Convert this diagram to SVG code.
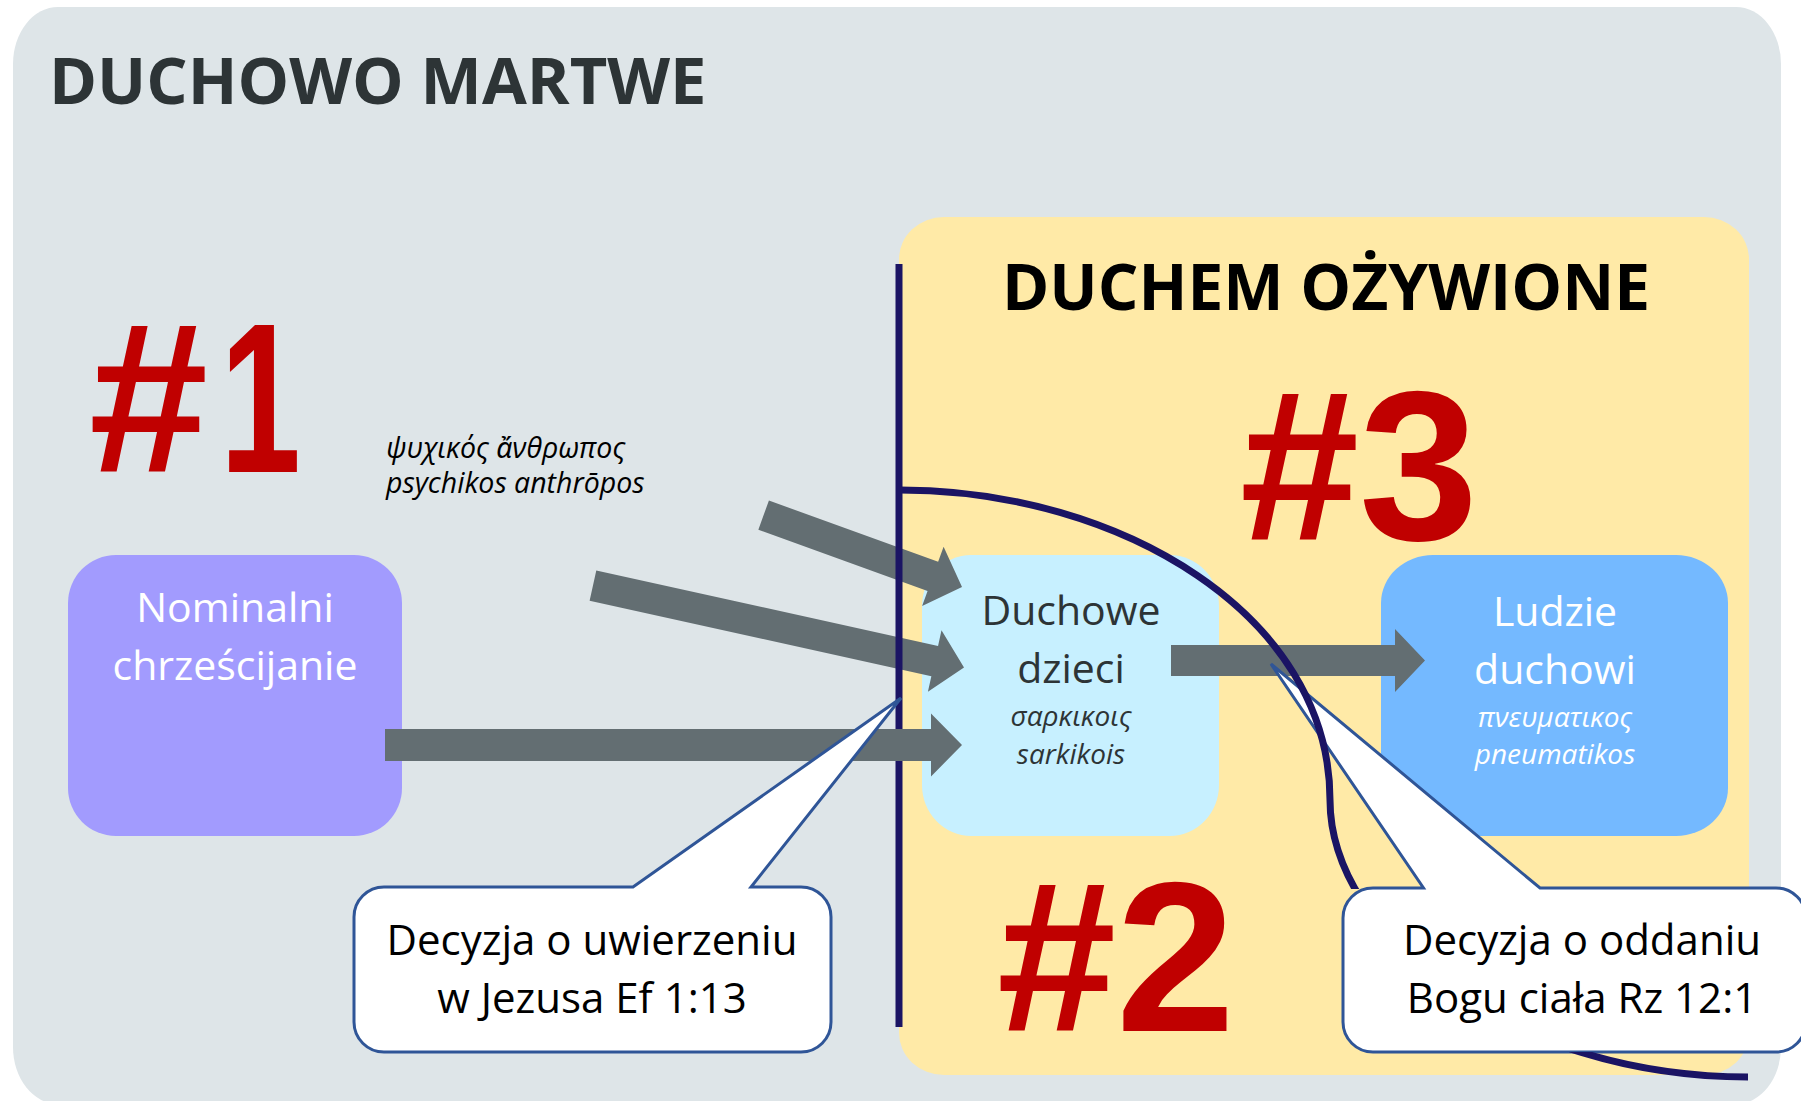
<svg xmlns="http://www.w3.org/2000/svg" width="1801" height="1101" viewBox="0 0 1801 1101">
  <style>
    .t { font-family: "Open Sans", "Noto Sans", "DejaVu Sans", sans-serif; }
    .title { font-weight: 700; font-size: 64px; }
    .num { font-family: "Liberation Sans", Arial, sans-serif; font-weight: 700; font-size: 214px; fill: #C00000; }
    .lbl { font-size: 40px; text-anchor: middle; }
    .big { font-size: 42px; }
    .gr { font-size: 28px; font-style: italic; }
    .arrow { fill: #636E72; }
    .callout { fill: #FFFFFF; stroke: #2F5597; stroke-width: 3; stroke-linejoin: miter; }
    .navy { fill: none; stroke: #1B1464; stroke-width: 7; }
  </style>
  <defs>
    <clipPath id="noBox">
      <path clip-rule="evenodd" d="M0,0 H1801 V1101 H0 Z M1343,889 H1810 V1052 H1343 Z"/>
    </clipPath>
  </defs>

  <rect width="1801" height="1101" fill="#FFFFFF"/>

  <g id="panel-dead">
    <rect x="13" y="7" width="1768" height="1097" rx="45" ry="57" fill="#DEE5E8"/>
    <text class="t title" x="49" y="104" fill="#2D3436" style="font-size:65px">DUCHOWO MARTWE</text>
    <text class="num" x="89" y="472">#</text>
    <text class="num" transform="translate(220,472) scale(0.68,1)">1</text>
  </g>

  <g id="panel-alive">
    <rect x="899" y="217" width="850" height="858" rx="45" ry="42" fill="#FFEAA7"/>
    <text class="t title" x="1326" y="310" text-anchor="middle" fill="#000000">DUCHEM OŻYWIONE</text>
    <text class="num" x="1240" y="540">#3</text>
    <text class="num" x="997" y="1031">#2</text>
  </g>

  <g id="label-psychikos" class="t gr" fill="#000000" style="font-size:28.5px">
    <text x="386" y="458">ψυχικός ἄνθρωπος</text>
    <text x="386" y="493">psychikos anthrōpos</text>
  </g>

  <g id="node-nominalni">
    <rect x="68" y="555" width="334" height="281" rx="48" ry="48" fill="#A29BFE"/>
    <text class="t lbl" x="235" y="622" fill="#FFFFFF" style="font-size:41px">Nominalni</text>
    <text class="t lbl" x="235" y="680" fill="#FFFFFF" style="font-size:41px">chrześcijanie</text>
  </g>

  <g id="node-duchowe-dzieci">
    <rect x="922" y="555" width="297" height="281" rx="49" ry="51" fill="#C7F0FF"/>
    <text class="t lbl" x="1071" y="625" fill="#2D3436" style="font-size:41px">Duchowe</text>
    <text class="t lbl" x="1071" y="683" fill="#2D3436" style="font-size:41px">dzieci</text>
    <text class="t gr" x="1071" y="726" text-anchor="middle" fill="#2D3436">σαρκικοις</text>
    <text class="t gr" x="1071" y="764" text-anchor="middle" fill="#2D3436">sarkikois</text>
  </g>

  <g id="node-ludzie-duchowi">
    <rect x="1381" y="555" width="347" height="281" rx="52" ry="48" fill="#74B9FF"/>
    <text class="t lbl" x="1555" y="626" fill="#FFFFFF" style="font-size:41px">Ludzie</text>
    <text class="t lbl" x="1555" y="684" fill="#FFFFFF" style="font-size:41px">duchowi</text>
    <text class="t gr" x="1555" y="727" text-anchor="middle" fill="#FFFFFF">πνευματικος</text>
    <text class="t gr" x="1555" y="764" text-anchor="middle" fill="#FFFFFF">pneumatikos</text>
  </g>

  <g id="connectors">
    <polygon class="arrow" transform="translate(962,587) rotate(19.93)" points="-211,-15.5 -31,-15.5 -31,-31.5 0,0 -31,31.5 -31,15.5 -211,15.5"/>
    <polygon class="arrow" transform="translate(964,667.5) rotate(12.46)" points="-380,-15.5 -30,-15.5 -30,-31.5 0,0 -30,31.5 -30,15.5 -380,15.5"/>
    <line id="divider" class="navy" x1="899" y1="264" x2="899" y2="1027"/>
    <polygon class="arrow" points="385,729 931,729 931,713.5 962,745 931,776.5 931,761 385,761"/>
    <polygon class="arrow" points="1171,645 1395,645 1395,629 1425,660.5 1395,692 1395,676 1171,676"/>
  </g>

  <g id="callout-uwierzenie">
    <path class="callout" d="M384,887 L633,887 L901,698 L751,887 L801,887 A30,30 0 0 1 831,917 L831,1022 A30,30 0 0 1 801,1052 L384,1052 A30,30 0 0 1 354,1022 L354,917 A30,30 0 0 1 384,887 Z"/>
    <text class="t lbl big" x="592" y="955" fill="#000000">Decyzja o uwierzeniu</text>
    <text class="t lbl big" x="592" y="1013" fill="#000000">w Jezusa Ef 1:13</text>
  </g>

  <g id="callout-oddanie">
    <path class="callout" d="M1373,888 L1423.5,888 L1271,664 L1540,888 L1776,888 A30,30 0 0 1 1806,918 L1806,1022 A30,30 0 0 1 1776,1052 L1373,1052 A30,30 0 0 1 1343,1022 L1343,918 A30,30 0 0 1 1373,888 Z"/>
    <text class="t lbl big" x="1582" y="955" fill="#000000">Decyzja o oddaniu</text>
    <text class="t lbl big" x="1582" y="1013" fill="#000000">Bogu ciała Rz 12:1</text>
  </g>

  <g id="boundary-curve" clip-path="url(#noBox)">
    <path class="navy" d="M900,490 C1120,490 1330,615 1330,800 C1330,935 1510,1077 1748,1077"/>
  </g>
</svg>
